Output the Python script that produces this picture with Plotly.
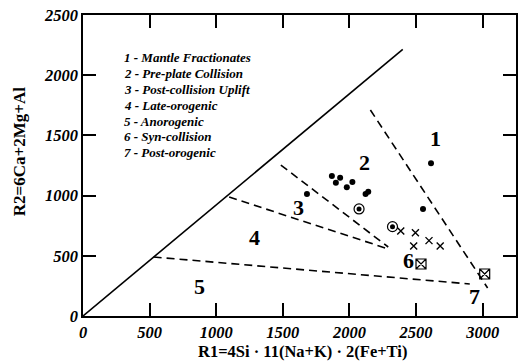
import plotly.graph_objects as go

# ---- data ----
dots_x = [2612, 1868, 1930, 1898, 2022, 1980, 2121, 2141, 1681, 2552]
dots_y = [1268, 1163, 1149, 1107, 1113, 1069, 1013, 1032, 1013, 889]
circ_x = [2072, 2323]
circ_y = [889, 742]
cross_x = [2385, 2495, 2597, 2681, 2482]
cross_y = [706, 692, 626, 581, 581]
box_x = [2537, 3015]
box_y = [432, 349]

solid_line = ([0, 2400], [0, 2215])
dashed_lines = [
    ([2157, 3037], [1711, 233]),
    ([1485, 2291], [1254, 573]),
    ([1097, 2269], [988, 565]),
    ([530, 2903], [490, 266]),
]

region_labels = ["1", "2", "3", "4", "5", "6", "7"]
region_x = [2642, 2112, 1619, 1284, 873, 2440, 2940]
region_y = [1478, 1279, 905, 648, 241, 465, 158]

legend_items = ["1 - Mantle Fractionates", "2 - Pre-plate Collision",
                "3 - Post-collision Uplift", "4 - Late-orogenic",
                "5 - Anorogenic", "6 - Syn-collision", "7 - Post-orogenic"]
legend_x = 290
legend_y0 = 2143
legend_step = 131

x_ticks = [0, 500, 1000, 1500, 2000, 2500, 3000]
y_ticks = [0, 500, 1000, 1500, 2000, 2500]

FONT = "Liberation Serif"

fig = go.Figure()
fig.add_trace(go.Scatter(x=solid_line[0], y=solid_line[1], mode="lines",
                         line=dict(color="black", width=1.6), hoverinfo="skip"))
for xs, ys in dashed_lines:
    fig.add_trace(go.Scatter(x=xs, y=ys, mode="lines",
                             line=dict(color="black", width=1.6, dash="8px,5px"),
                             hoverinfo="skip"))

fig.add_trace(go.Scatter(x=dots_x, y=dots_y, mode="markers",
                         marker=dict(symbol="circle", size=6, color="black")))
fig.add_trace(go.Scatter(x=circ_x, y=circ_y, mode="markers",
                         marker=dict(symbol="circle-open", size=10, color="black",
                                     line=dict(width=1.2))))
fig.add_trace(go.Scatter(x=circ_x, y=circ_y, mode="markers",
                         marker=dict(symbol="circle", size=5, color="black")))
fig.add_trace(go.Scatter(x=cross_x, y=cross_y, mode="markers",
                         marker=dict(symbol="x-thin-open", size=7, color="black",
                                     line=dict(width=1.4, color="black"))))
fig.add_trace(go.Scatter(x=box_x, y=box_y, mode="markers",
                         marker=dict(symbol="square-x-open", size=10, color="black",
                                     line=dict(width=1.2, color="black"))))

annotations = []
for lab, x, y in zip(region_labels, region_x, region_y):
    annotations.append(dict(x=x, y=y, text=f"<b>{lab}</b>", showarrow=False,
                            font=dict(family=FONT, size=22, color="black")))
for i, t in enumerate(legend_items):
    annotations.append(dict(x=legend_x, y=legend_y0 - i * legend_step,
                            text=f"<b><i>{t}</i></b>", showarrow=False,
                            xanchor="left", yanchor="middle",
                            font=dict(family=FONT, size=13, color="black")))
# axis titles placed as annotations
annotations.append(dict(x=-0.145, y=0.545, xref="paper", yref="paper",
                        text="<b>R2=6Ca+2Mg+Al</b>", textangle=-90, showarrow=False,
                        xanchor="center", yanchor="middle",
                        font=dict(family=FONT, size=17, color="black")))
annotations.append(dict(x=0.506, y=-0.117, xref="paper", yref="paper",
                        text="<b>R1=4Si · 11(Na+K) · 2(Fe+Ti)</b>", showarrow=False,
                        xanchor="center", yanchor="middle",
                        font=dict(family=FONT, size=16.5, color="black")))

axis_common = dict(showgrid=False, zeroline=False, ticks="inside", ticklen=13,
                   tickwidth=1.5, tickcolor="black", showline=True, linecolor="black",
                   linewidth=1.6, mirror="ticks",
                   tickfont=dict(family=FONT, size=16.5, color="black"))

fig.update_layout(
    width=519, height=361,
    margin=dict(l=83, r=1, t=15, b=45),
    paper_bgcolor="white", plot_bgcolor="white",
    showlegend=False,
    font=dict(family=FONT, color="black"),
    annotations=annotations,
    xaxis=dict(range=[0, 3250], tickvals=x_ticks,
               ticktext=[f"<b><i>{v}</i></b>" for v in x_ticks],
               **axis_common),
    yaxis=dict(range=[0, 2500], tickvals=y_ticks,
               ticktext=[f"<b><i>{v}</i></b>" for v in y_ticks],
               **axis_common),
)

fig.write_html("out.html")
